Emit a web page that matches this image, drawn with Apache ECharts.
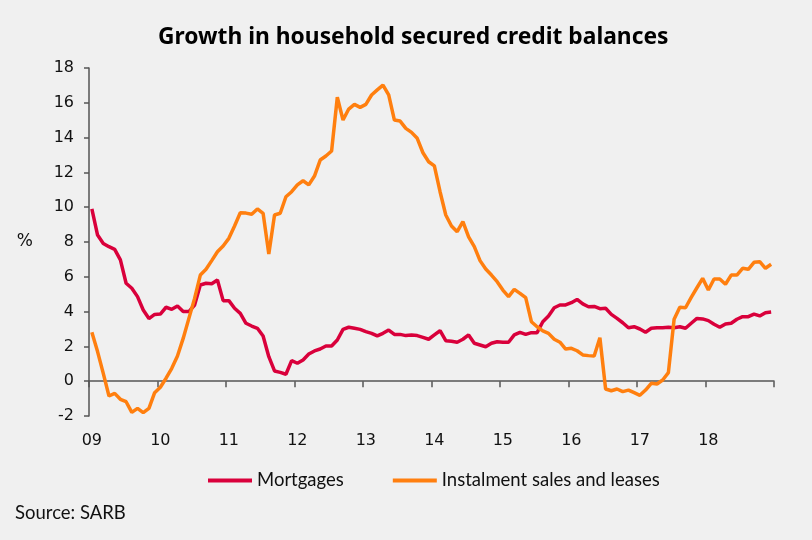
<!DOCTYPE html>
<html>
<head>
<meta charset="utf-8">
<script src="https://cdn.jsdelivr.net/npm/echarts@6/dist/echarts.min.js"></script>
<style>
html,body{margin:0;padding:0;background:#f0f0f0;}
#chart{width:812px;height:540px;}
</style>
</head>
<body>
<div id="chart"></div>
<script>
var years = ['09','10','11','12','13','14','15','16','17','18'];
var mortgages = [
  9.9, 8.4, 7.92, 7.73, 7.58, 6.97, 5.63, 5.34, 4.86, 4.09, 3.6, 3.84,
  3.86, 4.25, 4.13, 4.32, 4.0, 4.0, 4.38, 5.53, 5.63, 5.6, 5.82, 4.63,
  4.63, 4.19, 3.9, 3.33, 3.17, 3.04, 2.6, 1.41, 0.59, 0.51, 0.4, 1.18,
  1.03, 1.22, 1.56, 1.74, 1.85, 2.02, 2.02, 2.37, 2.98, 3.1, 3.04, 2.98,
  2.85, 2.75, 2.6, 2.75, 2.94, 2.69, 2.69, 2.62, 2.65, 2.62, 2.52, 2.41,
  2.66, 2.9, 2.33, 2.3, 2.24, 2.41, 2.66, 2.18, 2.08, 1.98, 2.18, 2.27,
  2.24, 2.24, 2.66, 2.81, 2.69, 2.79, 2.79, 3.42, 3.75, 4.22, 4.38, 4.38,
  4.51, 4.7, 4.44, 4.28, 4.3, 4.17, 4.19, 3.84, 3.61, 3.36, 3.07, 3.13,
  3.0, 2.81, 3.04, 3.07, 3.07, 3.1, 3.07, 3.13, 3.04, 3.33, 3.61, 3.58,
  3.48, 3.27, 3.1, 3.29, 3.33, 3.56, 3.71, 3.71, 3.86, 3.75, 3.94, 3.98
];
var instalments = [
  2.81, 1.7, 0.45, -0.85, -0.7, -1.04, -1.18, -1.79, -1.56, -1.81, -1.56, -0.66,
  -0.35, 0.17, 0.74, 1.45, 2.46, 3.61, 4.76, 6.1, 6.43, 6.93, 7.44, 7.77,
  8.21, 8.92, 9.68, 9.66, 9.59, 9.9, 9.65, 7.31, 9.55, 9.65, 10.6, 10.89,
  11.28, 11.52, 11.28, 11.79, 12.71, 12.94, 13.23, 16.32, 15.01, 15.64, 15.91, 15.74,
  15.91, 16.45, 16.74, 17.02, 16.45, 15.01, 14.95, 14.53, 14.3, 13.96, 13.13, 12.61,
  12.37, 10.89, 9.55, 8.92, 8.59, 9.17, 8.3, 7.73, 6.93, 6.45, 6.1, 5.72,
  5.24, 4.86, 5.28, 5.05, 4.8, 3.42, 3.13, 2.89, 2.75, 2.41, 2.24, 1.85,
  1.89, 1.75, 1.51, 1.47, 1.45, 2.5, -0.45, -0.55, -0.45, -0.6, -0.51, -0.66,
  -0.81, -0.51, -0.12, -0.16, 0.07, 0.49, 3.56, 4.25, 4.22, 4.82, 5.37, 5.91,
  5.24, 5.87, 5.87, 5.57, 6.1, 6.1, 6.49, 6.43, 6.83, 6.87, 6.49, 6.72
];
var seriesNames = ['Mortgages', 'Instalment sales and leases'];

var months = [];
years.forEach(function (y) {
  for (var m = 1; m <= 12; m++) months.push(y + '-' + (m < 10 ? '0' + m : m));
});

var chart = echarts.init(document.getElementById('chart'));
var axisColor = '#555555';
var labelFont = '"DejaVu Sans", Verdana, sans-serif';
var textFont = 'Lato, sans-serif';
chart.setOption({
  backgroundColor: '#f0f0f0',
  animation: false,
  title: {
    text: 'Growth in household secured credit balances',
    left: 153,
    top: 21,
    textStyle: { fontFamily: '"Noto Sans", sans-serif', fontSize: 22.8, fontWeight: 'bold', color: '#000' }
  },
  grid: { left: 89, right: 38, top: 68, bottom: 124 },
  legend: {
    left: 203,
    top: 466,
    itemWidth: 44,
    itemHeight: 4,
    itemGap: 49,
    icon: 'rect',
    textStyle: { fontFamily: textFont, fontSize: 18.5, color: '#111' },
    data: seriesNames
  },
  xAxis: [{
    type: 'category',
    data: months,
    boundaryGap: true,
    axisLine: { onZero: true, lineStyle: { color: axisColor, width: 1.5 } },
    axisTick: { show: true, interval: 11, length: 6, lineStyle: { color: axisColor, width: 1.5 } },
    axisLabel: { show: false },
    splitLine: { show: false }
  }, {
    type: 'category',
    data: months,
    position: 'bottom',
    boundaryGap: true,
    axisLine: { show: false, onZero: false },
    axisTick: { show: false },
    axisLabel: {
      interval: 11,
      margin: 17,
      fontFamily: labelFont,
      fontSize: 16,
      color: '#111',
      formatter: function (v) { return v.split('-')[0]; }
    },
    splitLine: { show: false }
  }],
  yAxis: {
    type: 'value',
    min: -2,
    max: 18,
    interval: 2,
    name: '%',
    nameLocation: 'middle',
    nameRotate: 0,
    nameGap: 56,
    nameTextStyle: { fontFamily: labelFont, fontSize: 17, color: '#111' },
    axisLine: { show: true, lineStyle: { color: axisColor, width: 1.5 } },
    axisTick: { show: true, length: 5, lineStyle: { color: axisColor, width: 1.5 } },
    axisLabel: { margin: 15, fontFamily: labelFont, fontSize: 16, color: '#111' },
    splitLine: { show: false }
  },
  series: [{
    name: seriesNames[0],
    type: 'line',
    data: mortgages,
    symbol: 'none',
    color: '#d9003b',
    lineStyle: { width: 3.5, color: '#d9003b' }
  }, {
    name: seriesNames[1],
    type: 'line',
    data: instalments,
    symbol: 'none',
    color: '#ff7f0f',
    lineStyle: { width: 3.5, color: '#ff7f0f' }
  }],
  graphic: [{
    type: 'text',
    left: 15,
    top: 504,
    style: { text: 'Source: SARB', fontFamily: textFont, fontSize: 18.5, fill: '#111' }
  }]
});
</script>
</body>
</html>
